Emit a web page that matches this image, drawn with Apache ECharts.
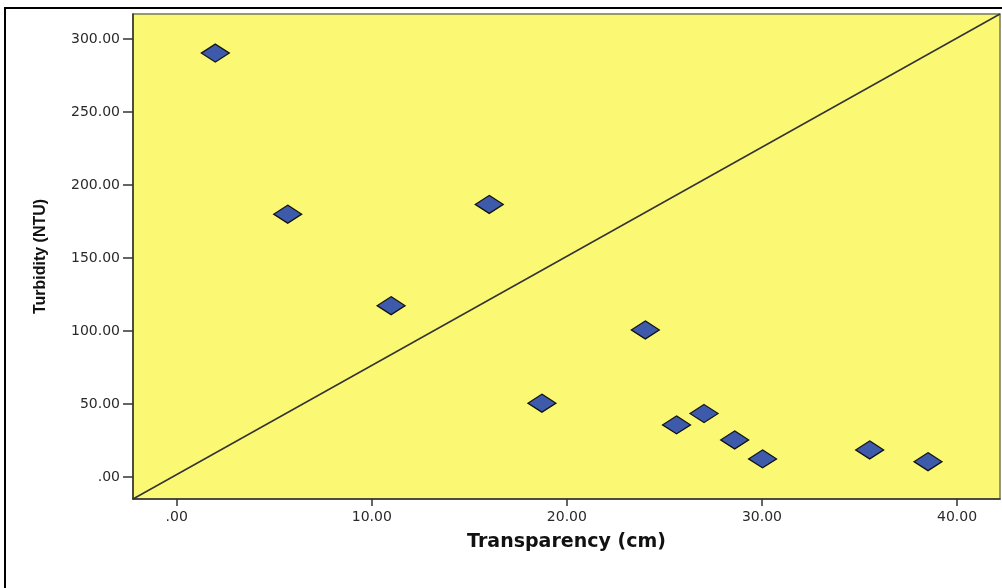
<!DOCTYPE html>
<html>
<head>
<meta charset="utf-8">
<script src="https://cdn.jsdelivr.net/npm/echarts@6/dist/echarts.min.js"></script>
<style>
html,body{margin:0;padding:0;background:#fff;}
#chart{width:1002px;height:588px;}
</style>
</head>
<body>
<div id="chart"></div>
<script>
// Data
const transparency = [1.98, 5.69, 10.99, 16.02, 18.72, 24.02, 25.62, 27.03, 28.6, 30.03, 35.52, 38.51];
const turbidity    = [290.5, 180.1, 117.4, 186.8, 50.6, 100.8, 35.7, 43.5, 25.4, 12.4, 18.5, 10.5];
const xTicks = [0, 10, 20, 30, 40];
const yTicks = [0, 50, 100, 150, 200, 250, 300];
const xRange = [-2.24, 42.2];
const yRange = [-15.1, 317.3];
// reference line drawn from corner to corner of the plot
const refLineX = [-2.24, 42.2];
const refLineY = [-15.1, 317.3];

const fmt = v => {
  const s = Number(v).toFixed(2);
  return s.startsWith('0.') ? s.slice(1) : s;
};

const points = transparency.map((x, i) => [x, turbidity[i]]);
const lineData = refLineX.map((x, i) => [x, refLineY[i]]);

const chart = echarts.init(document.getElementById('chart'), null, {renderer: 'canvas'});
chart.setOption({
  animation: false,
  backgroundColor: '#ffffff',
  graphic: [{
    type: 'rect', silent: true, z: 100,
    shape: {x: 5, y: 8, width: 1100, height: 700},
    style: {fill: 'none', stroke: '#000', lineWidth: 2}
  }],
  grid: {
    left: 133, right: 2, top: 14, bottom: 89,
    show: true, backgroundColor: '#FBF874', borderColor: '#77775a', borderWidth: 1.5
  },
  xAxis: {
    type: 'value', min: xRange[0], max: xRange[1],
    name: 'Transparency (cm)', nameLocation: 'middle', nameGap: 34,
    nameTextStyle: {fontFamily: 'DejaVu Sans', fontWeight: 'bold', fontSize: 19, color: '#111'},
    axisLine: {show: true, onZero: false, lineStyle: {color: '#333', width: 1.5}},
    axisTick: {show: true, customValues: xTicks, length: 7, lineStyle: {color: '#333', width: 1.5}},
    axisLabel: {customValues: xTicks, formatter: fmt, margin: 11, fontFamily: 'DejaVu Sans', fontSize: 14, color: '#2a2a2a'},
    splitLine: {show: false}
  },
  yAxis: {
    type: 'value', min: yRange[0], max: yRange[1],
    name: 'Turbidity (NTU)', nameLocation: 'middle', nameGap: 84, nameRotate: 90,
    nameTextStyle: {fontFamily: 'Liberation Sans', fontWeight: 'bold', fontSize: 16, color: '#111'},
    axisLine: {show: true, onZero: false, lineStyle: {color: '#333', width: 1.5}},
    axisTick: {show: true, customValues: yTicks, length: 10, lineStyle: {color: '#333', width: 1.5}},
    axisLabel: {customValues: yTicks, formatter: fmt, margin: 13, fontFamily: 'DejaVu Sans', fontSize: 14, color: '#2a2a2a'},
    splitLine: {show: false}
  },
  series: [
    {
      type: 'line', data: lineData, symbol: 'none', silent: true,
      lineStyle: {color: '#333', width: 1.5}, z: 2
    },
    {
      type: 'scatter', data: points, symbol: 'diamond', symbolSize: [28, 18],
      itemStyle: {color: '#3D5AAB', borderColor: '#111', borderWidth: 1.3, opacity: 1}, z: 3
    }
  ]
});
</script>
</body>
</html>
